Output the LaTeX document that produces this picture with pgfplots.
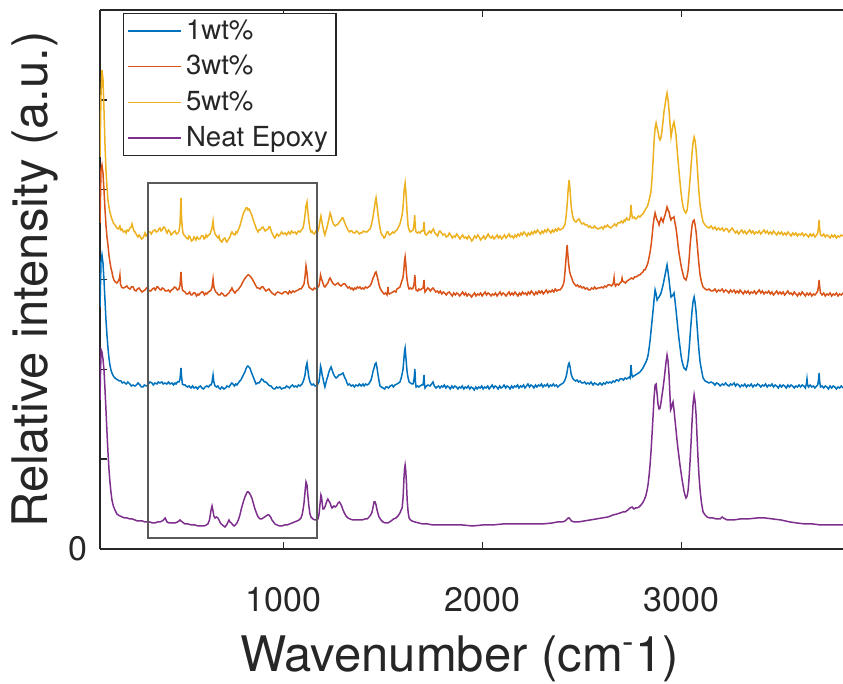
\documentclass[border=0pt]{standalone}
\usepackage{fontspec}
\setmainfont{TeX Gyre Heros}
\usepackage{pgfplots}
\usepackage{pgfplotstable}
\pgfplotsset{compat=1.18}

\definecolor{cone}{rgb}{0,0.447,0.741}
\definecolor{cthree}{rgb}{0.850,0.325,0.098}
\definecolor{cfive}{rgb}{0.929,0.694,0.125}
\definecolor{cneat}{rgb}{0.494,0.184,0.556}

% Raman spectra: wavenumber (cm^-1) vs. offset intensity (a.u.)
\pgfplotstableread[row sep=\\]{
wn I\\
78 392\\ 83 454\\ 88 479\\ 93 470\\ 98 439\\ 103 405\\ 108 379\\ 113 362\\ 118 349\\ 123 342\\ 128 337\\ 133 333\\ 138 330\\ 145 326\\ 153 324\\ 163 321\\ 171 320\\ 178 323\\ 183 319\\ 188 320\\ 196 317\\ 203 318\\ 209 316\\ 214 319\\ 221 318\\ 229 321\\ 234 322\\ 239 325\\ 244 321\\ 249 318\\ 254 317\\ 262 314\\ 269 312\\ 274 314\\ 279 313\\ 286 310\\ 294 311\\ 299 313\\ 304 316\\ 309 313\\ 314 314\\ 321 317\\ 329 317\\ 336 315\\ 344 318\\ 354 319\\ 361 317\\ 369 318\\ 374 320\\ 379 321\\ 385 318\\ 390 319\\ 397 322\\ 405 321\\ 410 318\\ 415 316\\ 422 319\\ 430 317\\ 435 314\\ 440 315\\ 448 317\\ 455 318\\ 462 315\\ 470 316\\ 475 318\\ 480 325\\ 485 351\\ 488 330\\ 492 320\\ 495 316\\ 500 314\\ 505 313\\ 512 311\\ 520 310\\ 525 313\\ 530 312\\ 538 308\\ 545 309\\ 550 312\\ 555 311\\ 560 309\\ 566 312\\ 573 310\\ 580 310\\ 588 313\\ 596 313\\ 601 310\\ 606 311\\ 611 314\\ 616 312\\ 624 314\\ 631 315\\ 636 318\\ 641 321\\ 646 328\\ 650 320\\ 656 315\\ 663 313\\ 671 311\\ 676 313\\ 681 309\\ 686 308\\ 691 307\\ 698 310\\ 706 311\\ 711 308\\ 716 307\\ 724 310\\ 731 312\\ 736 315\\ 741 317\\ 748 315\\ 756 314\\ 761 317\\ 766 316\\ 773 319\\ 781 323\\ 786 327\\ 792 331\\ 799 336\\ 807 339\\ 812 341\\ 817 341\\ 822 339\\ 827 340\\ 834 337\\ 842 333\\ 850 328\\ 857 324\\ 864 320\\ 872 317\\ 877 319\\ 882 319\\ 890 321\\ 897 322\\ 902 320\\ 907 318\\ 914 319\\ 922 320\\ 927 322\\ 932 322\\ 940 317\\ 947 314\\ 952 312\\ 957 311\\ 962 313\\ 967 315\\ 975 313\\ 982 314\\ 990 317\\ 998 315\\ 1008 316\\ 1015 314\\ 1025 317\\ 1033 315\\ 1040 318\\ 1048 316\\ 1058 317\\ 1065 315\\ 1075 318\\ 1083 317\\ 1090 319\\ 1098 321\\ 1103 326\\ 1108 334\\ 1113 343\\ 1118 347\\ 1123 336\\ 1128 327\\ 1133 320\\ 1138 317\\ 1143 318\\ 1148 316\\ 1155 315\\ 1163 318\\ 1168 316\\ 1173 318\\ 1178 321\\ 1183 328\\ 1188 333\\ 1193 327\\ 1198 322\\ 1203 317\\ 1208 314\\ 1213 318\\ 1218 321\\ 1226 328\\ 1234 336\\ 1239 333\\ 1244 329\\ 1251 325\\ 1259 323\\ 1266 324\\ 1274 325\\ 1281 327\\ 1289 329\\ 1294 331\\ 1299 331\\ 1306 327\\ 1314 323\\ 1319 321\\ 1324 319\\ 1331 317\\ 1337 318\\ 1344 318\\ 1351 316\\ 1359 316\\ 1366 318\\ 1374 317\\ 1381 315\\ 1388 316\\ 1394 316\\ 1401 318\\ 1410 317\\ 1420 317\\ 1428 319\\ 1435 320\\ 1440 323\\ 1448 330\\ 1455 339\\ 1460 346\\ 1465 351\\ 1470 343\\ 1475 334\\ 1480 327\\ 1485 321\\ 1490 316\\ 1495 314\\ 1500 313\\ 1505 311\\ 1510 312\\ 1515 315\\ 1520 317\\ 1525 317\\ 1532 314\\ 1540 315\\ 1548 317\\ 1555 316\\ 1563 318\\ 1570 319\\ 1578 322\\ 1585 325\\ 1590 329\\ 1596 334\\ 1601 343\\ 1606 359\\ 1611 366\\ 1616 354\\ 1621 336\\ 1626 323\\ 1631 319\\ 1636 317\\ 1643 318\\ 1651 319\\ 1656 325\\ 1659 334\\ 1662 322\\ 1666 317\\ 1672 316\\ 1679 317\\ 1686 316\\ 1693 318\\ 1701 318\\ 1704 322\\ 1706 327\\ 1708 320\\ 1711 315\\ 1718 314\\ 1726 316\\ 1734 318\\ 1741 316\\ 1746 318\\ 1753 320\\ 1760 316\\ 1766 315\\ 1774 313\\ 1781 317\\ 1786 318\\ 1794 316\\ 1801 314\\ 1810 315\\ 1818 312\\ 1826 313\\ 1833 316\\ 1840 314\\ 1848 311\\ 1856 313\\ 1863 312\\ 1870 315\\ 1878 313\\ 1886 310\\ 1893 312\\ 1900 314\\ 1908 311\\ 1916 312\\ 1923 310\\ 1930 313\\ 1938 311\\ 1946 308\\ 1953 310\\ 1960 313\\ 1968 311\\ 1976 314\\ 1983 312\\ 1990 309\\ 1998 311\\ 2006 313\\ 2013 310\\ 2020 312\\ 2028 315\\ 2036 312\\ 2043 311\\ 2050 313\\ 2058 310\\ 2066 312\\ 2073 314\\ 2080 311\\ 2088 313\\ 2096 310\\ 2103 312\\ 2110 314\\ 2118 311\\ 2126 313\\ 2133 315\\ 2140 312\\ 2148 313\\ 2156 311\\ 2163 314\\ 2170 312\\ 2178 315\\ 2186 313\\ 2193 316\\ 2200 314\\ 2208 317\\ 2216 315\\ 2223 313\\ 2230 316\\ 2238 314\\ 2246 317\\ 2253 315\\ 2261 318\\ 2268 316\\ 2276 319\\ 2283 317\\ 2291 315\\ 2298 318\\ 2306 316\\ 2313 319\\ 2321 317\\ 2328 320\\ 2336 318\\ 2343 316\\ 2351 319\\ 2358 317\\ 2366 320\\ 2374 318\\ 2381 321\\ 2389 319\\ 2397 320\\ 2405 321\\ 2410 323\\ 2415 325\\ 2420 333\\ 2425 344\\ 2430 359\\ 2435 369\\ 2440 358\\ 2445 344\\ 2450 336\\ 2455 331\\ 2462 328\\ 2470 327\\ 2477 329\\ 2485 330\\ 2492 327\\ 2500 325\\ 2508 326\\ 2516 324\\ 2525 324\\ 2533 322\\ 2540 323\\ 2548 321\\ 2555 321\\ 2563 323\\ 2571 321\\ 2580 320\\ 2590 321\\ 2598 322\\ 2606 320\\ 2613 323\\ 2620 322\\ 2628 324\\ 2636 322\\ 2645 321\\ 2655 323\\ 2663 325\\ 2672 323\\ 2680 326\\ 2690 326\\ 2697 328\\ 2705 326\\ 2712 329\\ 2716 328\\ 2724 331\\ 2731 329\\ 2738 329\\ 2743 335\\ 2746 344\\ 2749 336\\ 2753 331\\ 2761 332\\ 2768 330\\ 2776 331\\ 2784 333\\ 2791 332\\ 2799 334\\ 2806 335\\ 2811 337\\ 2817 339\\ 2822 341\\ 2827 342\\ 2832 345\\ 2837 349\\ 2842 353\\ 2847 359\\ 2852 372\\ 2857 389\\ 2862 408\\ 2867 421\\ 2872 426\\ 2877 421\\ 2882 417\\ 2887 411\\ 2892 409\\ 2897 412\\ 2902 419\\ 2907 428\\ 2912 438\\ 2917 444\\ 2922 451\\ 2927 456\\ 2932 449\\ 2937 439\\ 2942 425\\ 2947 412\\ 2952 418\\ 2957 424\\ 2962 427\\ 2967 421\\ 2972 414\\ 2977 401\\ 2982 389\\ 2987 378\\ 2992 367\\ 2997 357\\ 3002 349\\ 3007 343\\ 3012 339\\ 3017 337\\ 3022 336\\ 3028 339\\ 3033 348\\ 3038 359\\ 3043 371\\ 3048 384\\ 3053 397\\ 3058 407\\ 3063 412\\ 3068 408\\ 3073 399\\ 3078 385\\ 3083 369\\ 3088 355\\ 3093 344\\ 3100 335\\ 3108 327\\ 3118 324\\ 3128 322\\ 3138 321\\ 3148 323\\ 3158 320\\ 3168 322\\ 3176 319\\ 3186 321\\ 3194 319\\ 3204 321\\ 3212 318\\ 3221 320\\ 3229 320\\ 3238 317\\ 3246 319\\ 3254 321\\ 3264 318\\ 3271 316\\ 3279 318\\ 3287 315\\ 3294 317\\ 3302 319\\ 3310 316\\ 3318 318\\ 3326 315\\ 3334 317\\ 3342 319\\ 3350 316\\ 3358 318\\ 3366 315\\ 3374 317\\ 3382 316\\ 3390 318\\ 3398 315\\ 3406 317\\ 3414 319\\ 3422 316\\ 3430 318\\ 3438 315\\ 3446 317\\ 3454 315\\ 3462 318\\ 3470 316\\ 3478 314\\ 3486 317\\ 3494 315\\ 3502 317\\ 3510 314\\ 3518 316\\ 3526 314\\ 3534 317\\ 3542 315\\ 3550 313\\ 3558 316\\ 3566 314\\ 3574 316\\ 3582 313\\ 3590 315\\ 3598 314\\ 3606 316\\ 3614 313\\ 3622 315\\ 3630 314\\ 3638 312\\ 3646 315\\ 3654 313\\ 3662 315\\ 3670 312\\ 3678 314\\ 3684 316\\ 3688 322\\ 3691 329\\ 3694 320\\ 3698 314\\ 3706 313\\ 3714 315\\ 3722 312\\ 3730 314\\ 3738 313\\ 3746 311\\ 3754 314\\ 3762 312\\ 3770 314\\ 3778 311\\ 3786 313\\ 3794 312\\ 3802 314\\ 3811 313\\
}\fivewt

\pgfplotstableread[row sep=\\]{
wn I\\
78 326\\ 83 379\\ 88 384\\ 93 376\\ 98 359\\ 103 340\\ 108 324\\ 113 312\\ 118 304\\ 123 294\\ 128 287\\ 133 281\\ 138 277\\ 143 272\\ 148 269\\ 155 267\\ 163 266\\ 170 268\\ 175 270\\ 178 274\\ 181 265\\ 186 262\\ 192 261\\ 198 261\\ 205 262\\ 213 263\\ 220 261\\ 229 260\\ 236 262\\ 244 262\\ 251 259\\ 259 258\\ 266 260\\ 274 261\\ 281 259\\ 289 257\\ 296 258\\ 304 259\\ 311 261\\ 319 260\\ 326 258\\ 334 258\\ 341 260\\ 349 261\\ 356 259\\ 364 262\\ 369 262\\ 376 260\\ 384 259\\ 391 261\\ 399 260\\ 406 258\\ 414 258\\ 422 259\\ 430 257\\ 437 259\\ 445 260\\ 452 262\\ 460 261\\ 467 259\\ 475 260\\ 480 264\\ 485 277\\ 488 266\\ 492 259\\ 498 258\\ 505 257\\ 512 255\\ 520 255\\ 528 257\\ 535 254\\ 540 254\\ 548 256\\ 555 256\\ 563 253\\ 570 255\\ 575 254\\ 583 256\\ 590 257\\ 595 257\\ 603 254\\ 610 256\\ 615 255\\ 623 257\\ 631 258\\ 636 259\\ 641 262\\ 646 270\\ 650 262\\ 655 259\\ 660 257\\ 666 256\\ 673 254\\ 681 254\\ 688 256\\ 696 255\\ 703 253\\ 711 253\\ 719 255\\ 726 256\\ 731 258\\ 736 259\\ 741 261\\ 748 258\\ 756 256\\ 763 258\\ 771 259\\ 778 261\\ 786 263\\ 793 266\\ 801 269\\ 808 271\\ 816 273\\ 821 274\\ 826 274\\ 831 273\\ 836 272\\ 843 270\\ 851 267\\ 859 264\\ 867 261\\ 874 261\\ 882 260\\ 890 262\\ 897 262\\ 904 260\\ 912 258\\ 919 259\\ 927 260\\ 934 258\\ 942 256\\ 949 255\\ 957 254\\ 964 256\\ 972 257\\ 982 256\\ 992 255\\ 1003 257\\ 1013 257\\ 1023 255\\ 1030 258\\ 1038 256\\ 1048 258\\ 1055 257\\ 1063 258\\ 1073 259\\ 1080 260\\ 1088 260\\ 1095 262\\ 1103 265\\ 1108 272\\ 1113 283\\ 1118 276\\ 1123 266\\ 1128 262\\ 1133 261\\ 1140 260\\ 1148 259\\ 1155 261\\ 1163 260\\ 1170 261\\ 1178 263\\ 1183 269\\ 1186 274\\ 1191 270\\ 1198 266\\ 1203 263\\ 1208 262\\ 1215 264\\ 1223 266\\ 1228 269\\ 1234 271\\ 1239 269\\ 1244 267\\ 1251 265\\ 1259 264\\ 1266 265\\ 1274 266\\ 1281 264\\ 1289 263\\ 1294 264\\ 1301 265\\ 1309 265\\ 1316 263\\ 1324 261\\ 1331 262\\ 1338 260\\ 1344 261\\ 1351 259\\ 1358 261\\ 1364 260\\ 1371 262\\ 1378 261\\ 1384 262\\ 1391 260\\ 1398 261\\ 1404 260\\ 1412 262\\ 1420 261\\ 1427 262\\ 1434 263\\ 1440 265\\ 1445 268\\ 1450 271\\ 1455 273\\ 1460 276\\ 1465 277\\ 1470 273\\ 1475 269\\ 1480 264\\ 1485 261\\ 1490 259\\ 1497 257\\ 1505 255\\ 1512 256\\ 1520 254\\ 1523 258\\ 1525 262\\ 1527 256\\ 1532 255\\ 1540 256\\ 1550 257\\ 1558 258\\ 1565 257\\ 1570 260\\ 1578 261\\ 1585 262\\ 1590 265\\ 1596 269\\ 1600 271\\ 1605 280\\ 1608 288\\ 1611 292\\ 1614 286\\ 1618 275\\ 1621 269\\ 1626 263\\ 1631 260\\ 1638 261\\ 1645 260\\ 1651 261\\ 1656 265\\ 1660 274\\ 1663 264\\ 1666 259\\ 1674 258\\ 1680 260\\ 1686 259\\ 1694 260\\ 1701 261\\ 1704 265\\ 1706 269\\ 1708 262\\ 1711 257\\ 1718 259\\ 1725 261\\ 1731 260\\ 1738 258\\ 1745 260\\ 1751 261\\ 1758 259\\ 1765 257\\ 1773 258\\ 1780 256\\ 1788 258\\ 1795 255\\ 1803 257\\ 1810 256\\ 1818 254\\ 1825 256\\ 1833 257\\ 1840 255\\ 1848 253\\ 1855 256\\ 1863 254\\ 1870 256\\ 1878 255\\ 1885 253\\ 1893 255\\ 1900 257\\ 1908 254\\ 1915 256\\ 1922 253\\ 1930 255\\ 1937 254\\ 1945 252\\ 1952 254\\ 1960 256\\ 1967 253\\ 1975 255\\ 1983 254\\ 1990 256\\ 1998 253\\ 2005 255\\ 2013 257\\ 2020 254\\ 2028 256\\ 2035 255\\ 2043 253\\ 2050 255\\ 2058 254\\ 2065 256\\ 2073 253\\ 2080 255\\ 2088 257\\ 2095 254\\ 2103 256\\ 2110 255\\ 2118 253\\ 2125 255\\ 2133 257\\ 2140 254\\ 2148 256\\ 2155 254\\ 2163 257\\ 2170 255\\ 2178 253\\ 2185 256\\ 2193 254\\ 2200 257\\ 2208 255\\ 2215 256\\ 2223 254\\ 2230 257\\ 2238 255\\ 2245 258\\ 2253 256\\ 2260 254\\ 2268 257\\ 2275 255\\ 2283 258\\ 2290 256\\ 2298 258\\ 2305 255\\ 2313 257\\ 2320 259\\ 2328 256\\ 2335 258\\ 2343 257\\ 2350 259\\ 2358 257\\ 2365 260\\ 2373 258\\ 2380 259\\ 2389 259\\ 2397 261\\ 2405 264\\ 2410 268\\ 2415 279\\ 2420 292\\ 2425 304\\ 2428 296\\ 2432 286\\ 2437 278\\ 2442 274\\ 2448 271\\ 2455 267\\ 2462 265\\ 2470 263\\ 2477 264\\ 2485 262\\ 2492 263\\ 2500 261\\ 2508 262\\ 2516 260\\ 2525 261\\ 2533 259\\ 2540 259\\ 2548 261\\ 2556 260\\ 2563 262\\ 2571 260\\ 2580 261\\ 2590 261\\ 2598 262\\ 2606 261\\ 2614 263\\ 2622 262\\ 2630 264\\ 2640 264\\ 2648 263\\ 2656 265\\ 2659 268\\ 2661 271\\ 2663 266\\ 2668 263\\ 2676 265\\ 2684 264\\ 2691 266\\ 2697 267\\ 2701 271\\ 2704 268\\ 2711 267\\ 2718 266\\ 2726 268\\ 2734 269\\ 2741 270\\ 2748 271\\ 2756 270\\ 2764 272\\ 2771 272\\ 2779 273\\ 2786 274\\ 2791 274\\ 2799 276\\ 2806 277\\ 2811 279\\ 2816 279\\ 2821 281\\ 2827 284\\ 2832 287\\ 2837 292\\ 2842 297\\ 2847 304\\ 2852 313\\ 2857 324\\ 2862 331\\ 2867 336\\ 2872 332\\ 2877 329\\ 2882 327\\ 2887 324\\ 2892 328\\ 2897 331\\ 2902 329\\ 2907 327\\ 2912 331\\ 2917 334\\ 2922 338\\ 2927 342\\ 2932 339\\ 2937 337\\ 2942 332\\ 2947 329\\ 2952 331\\ 2957 331\\ 2962 332\\ 2967 326\\ 2972 321\\ 2977 313\\ 2982 304\\ 2987 296\\ 2992 290\\ 2997 284\\ 3002 279\\ 3007 275\\ 3012 271\\ 3017 270\\ 3022 269\\ 3028 273\\ 3033 279\\ 3038 290\\ 3043 304\\ 3048 315\\ 3053 324\\ 3058 328\\ 3063 329\\ 3068 324\\ 3073 317\\ 3078 306\\ 3083 294\\ 3088 283\\ 3093 274\\ 3100 267\\ 3108 262\\ 3118 260\\ 3128 259\\ 3138 260\\ 3148 258\\ 3158 258\\ 3168 260\\ 3176 257\\ 3186 259\\ 3194 258\\ 3204 260\\ 3212 257\\ 3221 259\\ 3229 258\\ 3238 256\\ 3246 259\\ 3254 257\\ 3264 259\\ 3271 256\\ 3279 258\\ 3287 256\\ 3294 259\\ 3302 257\\ 3310 255\\ 3318 258\\ 3326 256\\ 3334 258\\ 3342 255\\ 3350 257\\ 3358 256\\ 3366 258\\ 3374 255\\ 3382 257\\ 3390 259\\ 3398 256\\ 3406 258\\ 3414 255\\ 3422 257\\ 3430 256\\ 3438 258\\ 3446 255\\ 3454 257\\ 3462 254\\ 3470 256\\ 3478 258\\ 3486 255\\ 3494 257\\ 3502 255\\ 3510 257\\ 3518 254\\ 3526 256\\ 3534 258\\ 3542 255\\ 3550 256\\ 3558 254\\ 3566 257\\ 3574 255\\ 3582 253\\ 3590 256\\ 3598 254\\ 3606 257\\ 3614 255\\ 3622 253\\ 3630 256\\ 3638 254\\ 3646 256\\ 3654 253\\ 3662 255\\ 3670 254\\ 3678 256\\ 3684 258\\ 3688 263\\ 3691 269\\ 3694 262\\ 3698 256\\ 3706 254\\ 3714 256\\ 3722 253\\ 3730 255\\ 3738 254\\ 3746 256\\ 3754 253\\ 3762 255\\ 3770 254\\ 3778 256\\ 3786 253\\ 3794 255\\ 3802 254\\ 3811 256\\
}\threewt

\pgfplotstableread[row sep=\\]{
wn I\\
78 242\\ 83 287\\ 88 294\\ 93 286\\ 98 269\\ 103 249\\ 108 229\\ 113 214\\ 118 201\\ 123 191\\ 128 184\\ 133 179\\ 138 176\\ 145 173\\ 153 171\\ 160 170\\ 168 169\\ 175 168\\ 183 168\\ 190 166\\ 198 167\\ 203 166\\ 210 165\\ 218 167\\ 228 165\\ 236 163\\ 244 164\\ 254 163\\ 261 164\\ 269 166\\ 279 164\\ 286 162\\ 294 162\\ 301 164\\ 309 163\\ 314 163\\ 321 165\\ 329 167\\ 339 166\\ 346 164\\ 354 166\\ 364 165\\ 371 167\\ 379 166\\ 389 167\\ 396 165\\ 404 166\\ 414 165\\ 422 167\\ 430 165\\ 440 166\\ 447 164\\ 455 166\\ 460 165\\ 467 167\\ 475 167\\ 480 170\\ 485 181\\ 488 172\\ 492 165\\ 498 164\\ 505 164\\ 510 163\\ 518 162\\ 525 163\\ 535 161\\ 543 163\\ 550 161\\ 560 162\\ 568 160\\ 575 162\\ 583 163\\ 590 161\\ 598 160\\ 606 162\\ 615 163\\ 623 162\\ 631 164\\ 636 164\\ 641 167\\ 646 174\\ 650 167\\ 656 163\\ 663 162\\ 670 163\\ 676 161\\ 683 160\\ 690 162\\ 696 161\\ 701 160\\ 709 161\\ 716 163\\ 726 162\\ 733 164\\ 740 166\\ 746 165\\ 753 163\\ 760 165\\ 766 164\\ 773 166\\ 780 168\\ 786 169\\ 793 172\\ 801 175\\ 806 177\\ 811 180\\ 816 182\\ 821 183\\ 826 182\\ 831 181\\ 838 177\\ 846 173\\ 854 169\\ 862 165\\ 870 166\\ 877 166\\ 884 168\\ 890 170\\ 897 169\\ 904 167\\ 910 167\\ 917 166\\ 925 164\\ 932 163\\ 937 163\\ 945 161\\ 952 160\\ 957 160\\ 965 162\\ 972 161\\ 982 162\\ 990 160\\ 1000 161\\ 1008 161\\ 1015 163\\ 1023 162\\ 1030 161\\ 1038 163\\ 1045 164\\ 1053 162\\ 1060 163\\ 1068 162\\ 1075 164\\ 1083 163\\ 1088 164\\ 1093 165\\ 1098 167\\ 1103 170\\ 1108 174\\ 1113 182\\ 1118 186\\ 1123 178\\ 1128 171\\ 1133 167\\ 1138 165\\ 1143 164\\ 1150 165\\ 1158 163\\ 1163 163\\ 1170 164\\ 1175 166\\ 1178 167\\ 1183 175\\ 1186 183\\ 1190 180\\ 1194 174\\ 1198 171\\ 1203 166\\ 1208 162\\ 1213 166\\ 1218 170\\ 1223 173\\ 1228 177\\ 1234 180\\ 1239 182\\ 1244 179\\ 1249 176\\ 1256 173\\ 1264 171\\ 1271 172\\ 1278 174\\ 1284 174\\ 1292 175\\ 1299 176\\ 1306 172\\ 1314 169\\ 1319 166\\ 1324 164\\ 1331 165\\ 1340 163\\ 1349 164\\ 1356 162\\ 1364 164\\ 1374 163\\ 1381 165\\ 1390 163\\ 1399 165\\ 1405 163\\ 1413 165\\ 1420 164\\ 1428 165\\ 1434 167\\ 1440 169\\ 1445 173\\ 1450 178\\ 1455 181\\ 1460 185\\ 1465 186\\ 1470 181\\ 1475 174\\ 1480 168\\ 1485 163\\ 1492 162\\ 1500 161\\ 1508 160\\ 1515 162\\ 1520 162\\ 1528 161\\ 1536 163\\ 1545 164\\ 1552 162\\ 1560 164\\ 1570 165\\ 1578 166\\ 1585 167\\ 1590 170\\ 1596 175\\ 1600 179\\ 1605 190\\ 1608 198\\ 1611 201\\ 1614 194\\ 1618 184\\ 1621 177\\ 1626 171\\ 1631 167\\ 1638 166\\ 1645 165\\ 1651 165\\ 1656 170\\ 1660 180\\ 1663 167\\ 1666 162\\ 1674 163\\ 1680 162\\ 1686 163\\ 1694 164\\ 1701 164\\ 1704 169\\ 1706 174\\ 1708 166\\ 1711 161\\ 1718 163\\ 1726 164\\ 1736 163\\ 1744 165\\ 1751 167\\ 1758 163\\ 1766 161\\ 1771 162\\ 1779 163\\ 1786 161\\ 1794 163\\ 1801 162\\ 1808 164\\ 1816 161\\ 1823 163\\ 1831 162\\ 1838 160\\ 1846 163\\ 1853 161\\ 1861 163\\ 1868 162\\ 1876 160\\ 1883 162\\ 1891 161\\ 1898 163\\ 1906 160\\ 1913 162\\ 1921 161\\ 1928 163\\ 1936 160\\ 1943 162\\ 1951 161\\ 1958 159\\ 1966 162\\ 1973 160\\ 1981 162\\ 1988 161\\ 1996 163\\ 2003 160\\ 2011 162\\ 2018 161\\ 2026 163\\ 2033 160\\ 2041 162\\ 2048 164\\ 2056 161\\ 2063 163\\ 2071 162\\ 2078 160\\ 2086 163\\ 2093 161\\ 2101 162\\ 2108 164\\ 2116 161\\ 2123 163\\ 2131 162\\ 2138 160\\ 2146 163\\ 2153 161\\ 2161 163\\ 2168 162\\ 2176 164\\ 2183 161\\ 2191 163\\ 2198 162\\ 2206 164\\ 2213 161\\ 2221 163\\ 2228 165\\ 2236 162\\ 2243 164\\ 2251 163\\ 2258 161\\ 2266 164\\ 2273 162\\ 2281 164\\ 2288 163\\ 2296 165\\ 2303 162\\ 2311 164\\ 2318 163\\ 2326 165\\ 2333 162\\ 2341 164\\ 2348 163\\ 2356 165\\ 2363 163\\ 2371 164\\ 2378 162\\ 2389 164\\ 2397 165\\ 2405 166\\ 2412 168\\ 2418 171\\ 2423 175\\ 2428 181\\ 2432 185\\ 2435 186\\ 2440 182\\ 2445 175\\ 2452 171\\ 2460 169\\ 2468 168\\ 2475 169\\ 2482 167\\ 2490 168\\ 2498 166\\ 2505 166\\ 2513 167\\ 2521 165\\ 2529 166\\ 2537 165\\ 2545 167\\ 2555 164\\ 2563 166\\ 2571 165\\ 2580 164\\ 2590 166\\ 2600 164\\ 2608 166\\ 2616 165\\ 2624 167\\ 2632 166\\ 2640 167\\ 2648 166\\ 2656 168\\ 2664 167\\ 2672 169\\ 2676 169\\ 2684 168\\ 2691 170\\ 2701 170\\ 2708 169\\ 2716 171\\ 2724 170\\ 2731 171\\ 2738 172\\ 2741 171\\ 2744 177\\ 2746 184\\ 2749 176\\ 2753 172\\ 2760 173\\ 2768 174\\ 2776 175\\ 2784 176\\ 2791 177\\ 2799 179\\ 2806 181\\ 2811 183\\ 2816 185\\ 2821 187\\ 2827 190\\ 2832 194\\ 2837 201\\ 2842 209\\ 2847 219\\ 2852 229\\ 2857 239\\ 2862 250\\ 2867 259\\ 2872 255\\ 2877 249\\ 2882 251\\ 2887 252\\ 2892 254\\ 2897 256\\ 2902 260\\ 2907 264\\ 2912 269\\ 2917 274\\ 2922 279\\ 2927 284\\ 2932 277\\ 2937 269\\ 2942 260\\ 2947 252\\ 2952 253\\ 2957 254\\ 2962 256\\ 2967 248\\ 2972 239\\ 2977 229\\ 2982 219\\ 2987 210\\ 2992 202\\ 2997 194\\ 3002 188\\ 3007 184\\ 3012 181\\ 3017 180\\ 3022 179\\ 3028 183\\ 3033 189\\ 3038 200\\ 3043 214\\ 3048 227\\ 3053 239\\ 3058 248\\ 3063 252\\ 3068 246\\ 3073 237\\ 3078 223\\ 3083 209\\ 3088 197\\ 3093 187\\ 3100 179\\ 3108 171\\ 3118 168\\ 3128 167\\ 3138 166\\ 3148 167\\ 3158 166\\ 3168 164\\ 3176 166\\ 3186 165\\ 3194 163\\ 3204 165\\ 3212 164\\ 3221 166\\ 3229 164\\ 3238 163\\ 3246 165\\ 3254 164\\ 3264 166\\ 3271 163\\ 3279 165\\ 3287 164\\ 3294 162\\ 3302 164\\ 3310 163\\ 3318 165\\ 3326 162\\ 3334 164\\ 3342 163\\ 3350 165\\ 3358 162\\ 3366 164\\ 3374 163\\ 3382 165\\ 3390 164\\ 3398 162\\ 3406 164\\ 3414 163\\ 3422 165\\ 3430 162\\ 3438 164\\ 3446 163\\ 3454 165\\ 3462 162\\ 3470 164\\ 3478 163\\ 3486 161\\ 3494 164\\ 3502 162\\ 3510 164\\ 3518 163\\ 3526 161\\ 3534 164\\ 3542 162\\ 3550 164\\ 3558 163\\ 3566 161\\ 3574 163\\ 3582 162\\ 3590 164\\ 3598 162\\ 3606 164\\ 3614 163\\ 3622 161\\ 3627 165\\ 3630 170\\ 3633 164\\ 3638 162\\ 3646 164\\ 3654 162\\ 3662 163\\ 3670 161\\ 3678 163\\ 3684 164\\ 3688 169\\ 3691 176\\ 3694 167\\ 3698 162\\ 3706 163\\ 3714 161\\ 3722 163\\ 3730 162\\ 3738 160\\ 3746 163\\ 3754 161\\ 3762 163\\ 3770 162\\ 3778 160\\ 3786 162\\ 3794 161\\ 3802 163\\ 3811 161\\
}\onewt

\pgfplotstableread[row sep=\\]{
wn I\\
78 149\\ 81 180\\ 84 199\\ 88 197\\ 93 190\\ 98 179\\ 103 160\\ 108 139\\ 113 117\\ 118 97\\ 123 80\\ 128 67\\ 133 57\\ 138 49\\ 145 43\\ 153 39\\ 163 35\\ 170 34\\ 178 33\\ 190 32\\ 203 31\\ 215 31\\ 228 30\\ 240 30\\ 254 29\\ 266 28\\ 279 28\\ 291 28\\ 304 27\\ 316 27\\ 329 27\\ 341 26\\ 354 26\\ 366 27\\ 379 27\\ 390 28\\ 397 29\\ 405 31\\ 410 29\\ 415 27\\ 425 26\\ 440 26\\ 455 26\\ 467 27\\ 475 28\\ 480 29\\ 485 28\\ 492 27\\ 505 25\\ 520 25\\ 538 24\\ 555 24\\ 570 23\\ 585 23\\ 600 23\\ 612 24\\ 620 25\\ 628 29\\ 633 35\\ 636 39\\ 641 43\\ 645 39\\ 650 33\\ 656 31\\ 663 32\\ 670 31\\ 676 29\\ 683 26\\ 693 24\\ 706 22\\ 714 24\\ 721 27\\ 726 29\\ 731 27\\ 738 26\\ 746 24\\ 752 23\\ 758 24\\ 766 26\\ 773 29\\ 781 34\\ 788 40\\ 795 45\\ 801 49\\ 808 53\\ 813 55\\ 818 57\\ 823 57\\ 828 56\\ 834 54\\ 841 51\\ 848 46\\ 855 41\\ 862 37\\ 870 33\\ 877 31\\ 884 30\\ 890 30\\ 897 31\\ 905 32\\ 912 33\\ 920 34\\ 927 34\\ 935 32\\ 942 29\\ 950 27\\ 957 25\\ 967 24\\ 980 23\\ 992 23\\ 1005 24\\ 1018 24\\ 1030 25\\ 1043 26\\ 1055 27\\ 1068 28\\ 1078 29\\ 1088 31\\ 1093 34\\ 1098 39\\ 1103 46\\ 1108 57\\ 1113 67\\ 1118 64\\ 1123 52\\ 1128 42\\ 1133 35\\ 1138 32\\ 1148 30\\ 1158 29\\ 1168 29\\ 1173 30\\ 1178 34\\ 1183 44\\ 1188 54\\ 1191 52\\ 1195 45\\ 1198 40\\ 1203 40\\ 1208 42\\ 1213 45\\ 1218 48\\ 1223 50\\ 1228 48\\ 1234 46\\ 1239 43\\ 1244 41\\ 1249 42\\ 1254 43\\ 1259 42\\ 1266 43\\ 1274 46\\ 1281 47\\ 1287 45\\ 1294 42\\ 1299 39\\ 1306 36\\ 1314 33\\ 1324 31\\ 1334 30\\ 1349 29\\ 1364 29\\ 1379 29\\ 1394 29\\ 1410 30\\ 1420 30\\ 1430 32\\ 1438 34\\ 1445 37\\ 1450 42\\ 1455 47\\ 1460 47\\ 1465 44\\ 1470 39\\ 1475 35\\ 1480 32\\ 1490 29\\ 1500 27\\ 1512 26\\ 1525 26\\ 1540 28\\ 1553 30\\ 1565 31\\ 1575 33\\ 1585 36\\ 1591 39\\ 1596 41\\ 1601 52\\ 1605 70\\ 1608 80\\ 1611 84\\ 1614 79\\ 1618 65\\ 1621 50\\ 1626 37\\ 1631 31\\ 1638 29\\ 1646 28\\ 1660 27\\ 1680 26\\ 1700 25\\ 1725 25\\ 1750 24\\ 1800 24\\ 1850 24\\ 1900 24\\ 1950 23\\ 2000 24\\ 2050 24\\ 2100 25\\ 2150 25\\ 2200 25\\ 2250 25\\ 2300 25\\ 2350 26\\ 2375 27\\ 2400 27\\ 2415 28\\ 2425 30\\ 2430 31\\ 2435 31\\ 2440 30\\ 2447 28\\ 2460 27\\ 2480 27\\ 2510 28\\ 2540 29\\ 2570 30\\ 2600 31\\ 2630 32\\ 2656 34\\ 2675 35\\ 2691 36\\ 2705 37\\ 2716 37\\ 2730 39\\ 2741 41\\ 2751 42\\ 2761 40\\ 2768 41\\ 2776 41\\ 2786 42\\ 2796 44\\ 2804 46\\ 2812 49\\ 2820 53\\ 2827 59\\ 2832 65\\ 2837 74\\ 2842 85\\ 2847 99\\ 2852 116\\ 2857 134\\ 2862 152\\ 2867 164\\ 2872 165\\ 2877 155\\ 2882 144\\ 2887 140\\ 2892 141\\ 2897 147\\ 2902 154\\ 2907 161\\ 2912 169\\ 2917 178\\ 2922 187\\ 2927 194\\ 2932 188\\ 2937 174\\ 2941 156\\ 2945 139\\ 2949 141\\ 2952 144\\ 2957 147\\ 2962 139\\ 2967 129\\ 2972 119\\ 2977 109\\ 2982 100\\ 2987 92\\ 2992 84\\ 2997 77\\ 3002 70\\ 3007 64\\ 3012 58\\ 3017 54\\ 3022 51\\ 3028 53\\ 3033 59\\ 3038 72\\ 3043 89\\ 3048 108\\ 3053 129\\ 3058 146\\ 3063 154\\ 3068 147\\ 3073 134\\ 3078 111\\ 3083 89\\ 3088 72\\ 3093 59\\ 3100 46\\ 3108 37\\ 3118 34\\ 3128 32\\ 3143 31\\ 3158 31\\ 3175 30\\ 3193 30\\ 3199 31\\ 3204 32\\ 3210 31\\ 3220 30\\ 3229 29\\ 3260 29\\ 3294 30\\ 3330 30\\ 3379 31\\ 3420 31\\ 3460 30\\ 3500 29\\ 3545 27\\ 3580 26\\ 3620 25\\ 3660 25\\ 3700 24\\ 3760 24\\ 3811 24\\
}\neat

\begin{document}
\begin{tikzpicture}
\begin{axis}[
  scale only axis,
  width=371.5pt, height=269.5pt,
  xmin=78, xmax=3811,
  ymin=0, ymax=539,
  axis x line*=box,
  axis y line*=left,
  axis line style={draw=black!85, line width=0.75pt},
  tick style={draw=black!85, line width=0.75pt},
  tick align=inside,
  major tick length=3.5pt,
  xtick={1000,2000,3000},
  xtick pos=both,
  ytick={0,89.8,179.7,269.5,359.3,449.2,539},
  yticklabels={0,,,,,,},
  ytick pos=left,
  /pgf/number format/assume math mode=true,
  /pgf/number format/set thousands separator={},
  ticklabel style={font=\fontsize{17}{20}\selectfont, text=black!85},
  xticklabel style={anchor=base, yshift=-31.5pt},
  yticklabel style={xshift=-2.8pt},
  xlabel={Wavenumber (cm\textsuperscript{-}1)},
  label style={font=\fontsize{24.5}{28}\selectfont, text=black!85},
  xlabel style={at={(axis description cs:0.484,0)}, anchor=base, yshift=-61.5pt},
  legend style={at={(rel axis cs:0.031,0.994)}, anchor=north west,
    draw=black!85, line width=0.6pt, fill=white,
    font=\fontsize{13.8}{16}\selectfont, text=black!85,
    inner xsep=2pt, inner ysep=1pt, row sep=2.5pt},
  legend cell align=left,
  legend image code/.code={\draw[#1, line width=0.7pt] (0pt,0pt) -- (26.5pt,0pt);},
  every axis plot/.append style={line width=0.75pt},
]
\addplot[cone] table[x=wn, y=I] {\onewt};
\addlegendentry{1wt\%}
\addplot[cthree] table[x=wn, y=I] {\threewt};
\addlegendentry{3wt\%}
\addplot[cfive] table[x=wn, y=I] {\fivewt};
\addlegendentry{5wt\%}
\addplot[cneat] table[x=wn, y=I] {\neat};
\addlegendentry{Neat Epoxy}

% highlighted low-wavenumber region
\draw[black!65, line width=1.2pt] (axis cs:319,11) rectangle (axis cs:1168,366);

\coordinate (bl) at (rel axis cs:0,0);
\coordinate (ml) at (rel axis cs:0,0.5);
\coordinate (tr) at (rel axis cs:1,1);
\end{axis}
% vertical axis title
\node[rotate=90, font=\fontsize{24.5}{28}\selectfont, text=black!85, anchor=center]
  at ([xshift=-32.5pt]ml) {Relative intensity (a.u.)};
\pgfresetboundingbox
\path ([shift={(-50pt,-67.5pt)}]bl) rectangle ([shift={(0pt,5pt)}]tr);
\end{tikzpicture}
\end{document}
